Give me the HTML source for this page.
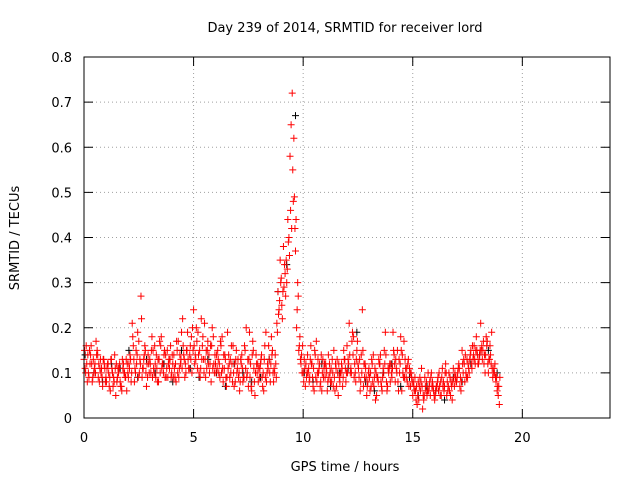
<!DOCTYPE html>
<html><head><meta charset="utf-8"><style>
body{margin:0;background:#fff;}
svg text{font-family:"DejaVu Sans","Liberation Sans",sans-serif;font-size:13px;fill:#000;}
</style></head><body>
<svg id="chart" width="640" height="480" xmlns="http://www.w3.org/2000/svg">
<rect width="640" height="480" fill="#fff"/>
<text x="345" y="32" text-anchor="middle">Day 239 of 2014, SRMTID for receiver lord</text>
<text x="345" y="471" text-anchor="middle">GPS time / hours</text>
<text x="19" y="238" text-anchor="middle" transform="rotate(-90 19 238)">SRMTID / TECUs</text>
<g id="grid"></g>
<g id="ticks"></g>
<g id="series-black"></g>
<g id="series-red"></g>
<rect x="84" y="57" width="526" height="361" fill="none" stroke="#000" stroke-width="1"/>
</svg>
<script>
const xTicks=[0,5,10,15,20];
const yTicks=[0,0.1,0.2,0.3,0.4,0.5,0.6,0.7,0.8];
const yTickLabels=["0","0.1","0.2","0.3","0.4","0.5","0.6","0.7","0.8"];
const redA=[.13,.16,.10,.14,.09,.12,.15,.08,.11,.13,.09,.12,.06,.10,.14,.08,.11,.07,.12,.09,.10,.14,.21,.08,.12,.17,.27,.11,.15,.09,.13,.18,.10,.14,.08,.16,.12,.09,.15,.11,.10,.14,.08,.17,.12,.22,.09,.15,.11,.18,.24,.13,.19,.09,.16,.21,.11,.14,.08,.18,.12,.15,.09,.18,.11,.07,.14,.10,.16,.08,.11,.06,.14,.09,.20,.07,.12,.17,.05,.10,.09,.14,.06,.19,.11,.08,.15,.10,.21,.24,.31,.38,.27,.44,.58,.72,.49,.20,.15,.12,.10,.07,.14,.09,.12,.06,.17,.10,.08,.13,.09,.06,.12,.08,.15,.11,.05,.10,.07,.13,.16,.21,.10,.18,.08,.12,.06,.24,.09,.05,.11,.07,.14,.04,.09,.12,.06,.15,.08,.10,.12,.19,.08,.15,.10,.06,.17,.09,.13,.07,.05,.09,.03,.07,.11,.04,.06,.10,.05,.08,.04,.07,.10,.05,.08,.12,.06,.09,.04,.07,.08,.12,.06,.10,.14,.09,.13,.11,.16,.18,.12,.21,.15,.10,.17,.13,.19,.11,.08,.05];
const redB=[.11,.08,.15,.12,.10,.17,.09,.13,.07,.11,.11,.07,.13,.09,.05,.11,.08,.13,.10,.06,.12,.08,.16,.10,.19,.13,.09,.14,.07,.12,.10,.15,.12,.08,.17,.11,.14,.09,.12,.16,.12,.09,.15,.11,.19,.14,.10,.13,.16,.20,.12,.17,.10,.22,.13,.09,.17,.12,.20,.10,.14,.10,.16,.08,.13,.19,.09,.12,.07,.15,.09,.13,.08,.15,.10,.19,.06,.11,.14,.08,.12,.07,.16,.10,.13,.18,.08,.12,.28,.35,.22,.34,.30,.40,.65,.48,.37,.30,.18,.10,.13,.09,.11,.16,.07,.14,.10,.12,.06,.11,.11,.14,.08,.10,.06,.13,.09,.12,.15,.08,.13,.10,.19,.12,.15,.09,.14,.07,.11,.08,.06,.12,.09,.05,.13,.08,.11,.19,.07,.12,.09,.14,.11,.06,.18,.10,.13,.08,.11,.09,.07,.04,.08,.06,.02,.09,.05,.07,.10,.06,.06,.09,.05,.11,.07,.05,.10,.08,.11,.09,.10,.07,.15,.12,.09,.11,.15,.13,.12,.14,.14,.16,.12,.18,.10,.14,.09,.12,.06,.03];
const redC=[.15,.12,.09,.16,.13,.10,.14,.11,.09,.12,.08,.10,.13,.07,.11,.09,.12,.06,.10,.13,.09,.13,.18,.11,.14,.10,.22,.13,.10,.14,.12,.09,.16,.11,.13,.18,.10,.14,.09,.13,.14,.11,.17,.09,.13,.16,.12,.19,.14,.10,.16,.20,.14,.11,.18,.13,.15,.10,.16,.12,.10,.13,.17,.11,.14,.09,.12,.16,.10,.13,.13,.08,.11,.16,.09,.13,.07,.15,.10,.12,.11,.09,.13,.08,.16,.12,.10,.14,.19,.26,.25,.29,.35,.39,.46,.55,.42,.24,.16,.14,.08,.12,.10,.13,.09,.15,.08,.11,.14,.09,.12,.08,.10,.13,.09,.07,.12,.10,.09,.11,.10,.14,.17,.09,.13,.11,.08,.15,.12,.07,.09,.13,.07,.10,.08,.14,.09,.12,.06,.11,.10,.15,.13,.08,.12,.14,.09,.11,.07,.10,.08,.06,.05,.09,.07,.05,.08,.06,.09,.07,.05,.08,.07,.09,.06,.10,.07,.05,.08,.10,.09,.11,.08,.13,.10,.12,.14,.16,.13,.15,.13,.15,.17,.14,.12,.16,.11,.10,.09,.07];
const redD=[.10,.14,.12,.08,.11,.14,.12,.10,.13,.08,.12,.09,.11,.08,.12,.10,.07,.11,.09,.12,.11,.10,.13,.15,.09,.12,.11,.16,.12,.10,.15,.11,.09,.13,.10,.12,.15,.11,.13,.09,.09,.12,.10,.14,.11,.13,.15,.11,.13,.15,.14,.11,.15,.13,.10,.15,.12,.16,.11,.14,.11,.12,.10,.14,.09,.11,.13,.08,.12,.10,.10,.12,.09,.11,.13,.09,.14,.08,.12,.11,.13,.10,.09,.12,.10,.14,.11,.09,.23,.30,.28,.32,.33,.36,.42,.62,.44,.27,.13,.16,.11,.10,.08,.12,.11,.09,.13,.07,.10,.12,.10,.09,.11,.07,.12,.10,.08,.11,.13,.10,.12,.11,.14,.10,.17,.13,.10,.12,.09,.10,.10,.08,.11,.09,.12,.07,.10,.14,.11,.08,.11,.12,.10,.13,.15,.09,.11,.12,.10,.08,.06,.07,.04,.08,.05,.07,.06,.08,.07,.05,.07,.06,.08,.07,.10,.08,.06,.07,.09,.08,.11,.09,.12,.08,.13,.10,.12,.14,.15,.12,.15,.13,.14,.16,.13,.12,.10,.09,.07,.09];
const black=[.14,.10,.08,.12,.11,.15,.09,.13,.10,.12,.08,.15,.11,.09,.13,.10,.07,.12,.10,.08,.09,.13,.28,.34,.67,.10,.08,.12,.07,.10,.11,.19,.08,.06,.10,.12,.07,.09,.05,.07,.06,.04,.09,.08,.12,.14,.15,.10];
const NS="http://www.w3.org/2000/svg";
const X=v=>84+v*526/24, Y=v=>418-v*361/0.8;
function mk(t,a,p){const e=document.createElementNS(NS,t);for(const k in a)e.setAttribute(k,a[k]);p.appendChild(e);return e;}
const grid=document.getElementById('grid'),ticks=document.getElementById('ticks');
xTicks.forEach(t=>{const x=X(t);
 if(t>0){const g=mk('line',{x1:x,y1:57,x2:x,y2:418,stroke:'#a0a0a0','stroke-dasharray':'1,3'},grid);}
 mk('line',{x1:x,y1:418,x2:x,y2:409,stroke:'#000'},ticks);mk('line',{x1:x,y1:57,x2:x,y2:66,stroke:'#000'},ticks);
 const l=mk('text',{x:x,y:442,'text-anchor':'middle'},ticks);l.textContent=t;
 });
yTicks.forEach((t,i)=>{const y=Y(t);
 if(t>0&&t<0.8){const g=mk('line',{x1:84,y1:y,x2:610,y2:y,stroke:'#a0a0a0','stroke-dasharray':'1,3'},grid);}
 mk('line',{x1:84,y1:y,x2:93,y2:y,stroke:'#000'},ticks);mk('line',{x1:610,y1:y,x2:601,y2:y,stroke:'#000'},ticks);
 const l=mk('text',{x:72,y:y+5,'text-anchor':'end'},ticks);l.textContent=yTickLabels[i];
 });
function plus(g,t,v,c){const x=X(t),y=Y(v);
 const p=mk('path',{d:`M${x-3.5},${y}h7M${x},${y-3.5}v7`,stroke:c,'stroke-width':1,fill:'none'},g);
 }
const gb=document.getElementById('series-black'),gr=document.getElementById('series-red');
black.forEach((v,i)=>plus(gb,i*0.4+0.05,v,'#000'));
redA.forEach((v,i)=>plus(gr,i*0.1,v,'#f00'));
redB.forEach((v,i)=>plus(gr,i*0.1+0.05,v,'#f00'));
redC.forEach((v,i)=>plus(gr,i*0.1+0.025,v,'#f00'));
redD.forEach((v,i)=>plus(gr,i*0.1+0.075,v,'#f00'));
</script>
</body></html>
